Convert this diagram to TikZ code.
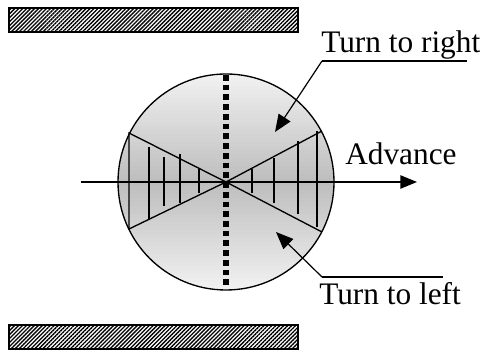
\documentclass[tikz,border=0pt]{standalone}
\usepackage{fontspec}
\setmainfont{Liberation Serif}
\usetikzlibrary{arrows.meta}
\usetikzlibrary{patterns.meta}

\tikzset{
	wall/.style={draw, line width=1.2pt, pattern={Lines[angle=45,distance=2.1pt,line width=1pt]}},
	hatch/.style={line width=1pt},
	label/.style={font=\fontsize{23.5}{26}\selectfont, inner sep=0pt},
	pointer/.style={line width=0.9pt, -{Triangle[length=13pt,width=10.5pt]}}
}

\begin{document}
\begin{tikzpicture}[x=0.75pt,y=0.75pt]
		\useasboundingbox (0,0) rectangle (484,352);
		
		% walls
		\draw[wall] (9,320) rectangle (298,344);
		\draw[wall] (9,3) rectangle (298,27);
		
		% disc, grey in the middle and light at top and bottom
		\begin{scope}
			\clip (226,170) circle (108);
			\foreach \i in {0,...,54} {
				\pgfmathsetmacro\yy{62+4*\i}
				\pgfmathsetmacro\pp{10+42*(1-abs(\yy+2-170)/108)}
				\fill[gray!\pp] (117,\yy) rectangle (335,\yy+4.4);
			}
		\end{scope}
		\draw[line width=1pt] (226,170) circle (108);
		
		% bow tie with hatching
		\coordinate (c) at (226,170);
		\draw[hatch] (129,219) -- (c) -- (129,123) -- cycle;
		\draw[hatch] (322,221) -- (c) -- (322,120);
		\foreach \x/\ya/\yb in {149/133/205, 164/146/195, 180/149/198, 199/159/183,
			252/159/183, 274/149/194, 298/138/211, 317/125/221}
			\draw[hatch] (\x,\ya) -- (\x,\yb);
		
		% advance axis
		\coordinate (a0) at (81,170);
		\coordinate (a1) at (417,170);
		\draw[line width=1pt, -{Triangle[length=12.5pt,width=10pt]}] (a0) -- (a1);
		
		% centre line
		\draw[line width=4pt, dash pattern=on 4.3pt off 3pt] (226,277) -- (226,63);
		
		% labels
		\node[label, anchor=base west] (right) at (321,299) {Turn to right};
		\node[label, anchor=base west] (adv) at (345,187) {Advance};
		\node[label, anchor=base west] (left) at (319,47) {Turn to left};
		
		\coordinate (r0) at (322,291);
		\coordinate (r1) at (467,291);
		\coordinate (rt) at (275,220);
		\draw[line width=0.9pt] (r1) -- (r0);
		\draw[pointer] (r0) -- (rt);
		
		\coordinate (l0) at (322,75);
		\coordinate (l1) at (443,75);
		\coordinate (lt) at (276,120);
		\draw[line width=0.9pt] (l1) -- (l0);
		\draw[pointer] (l0) -- (lt);
	\end{tikzpicture}
\end{document}
